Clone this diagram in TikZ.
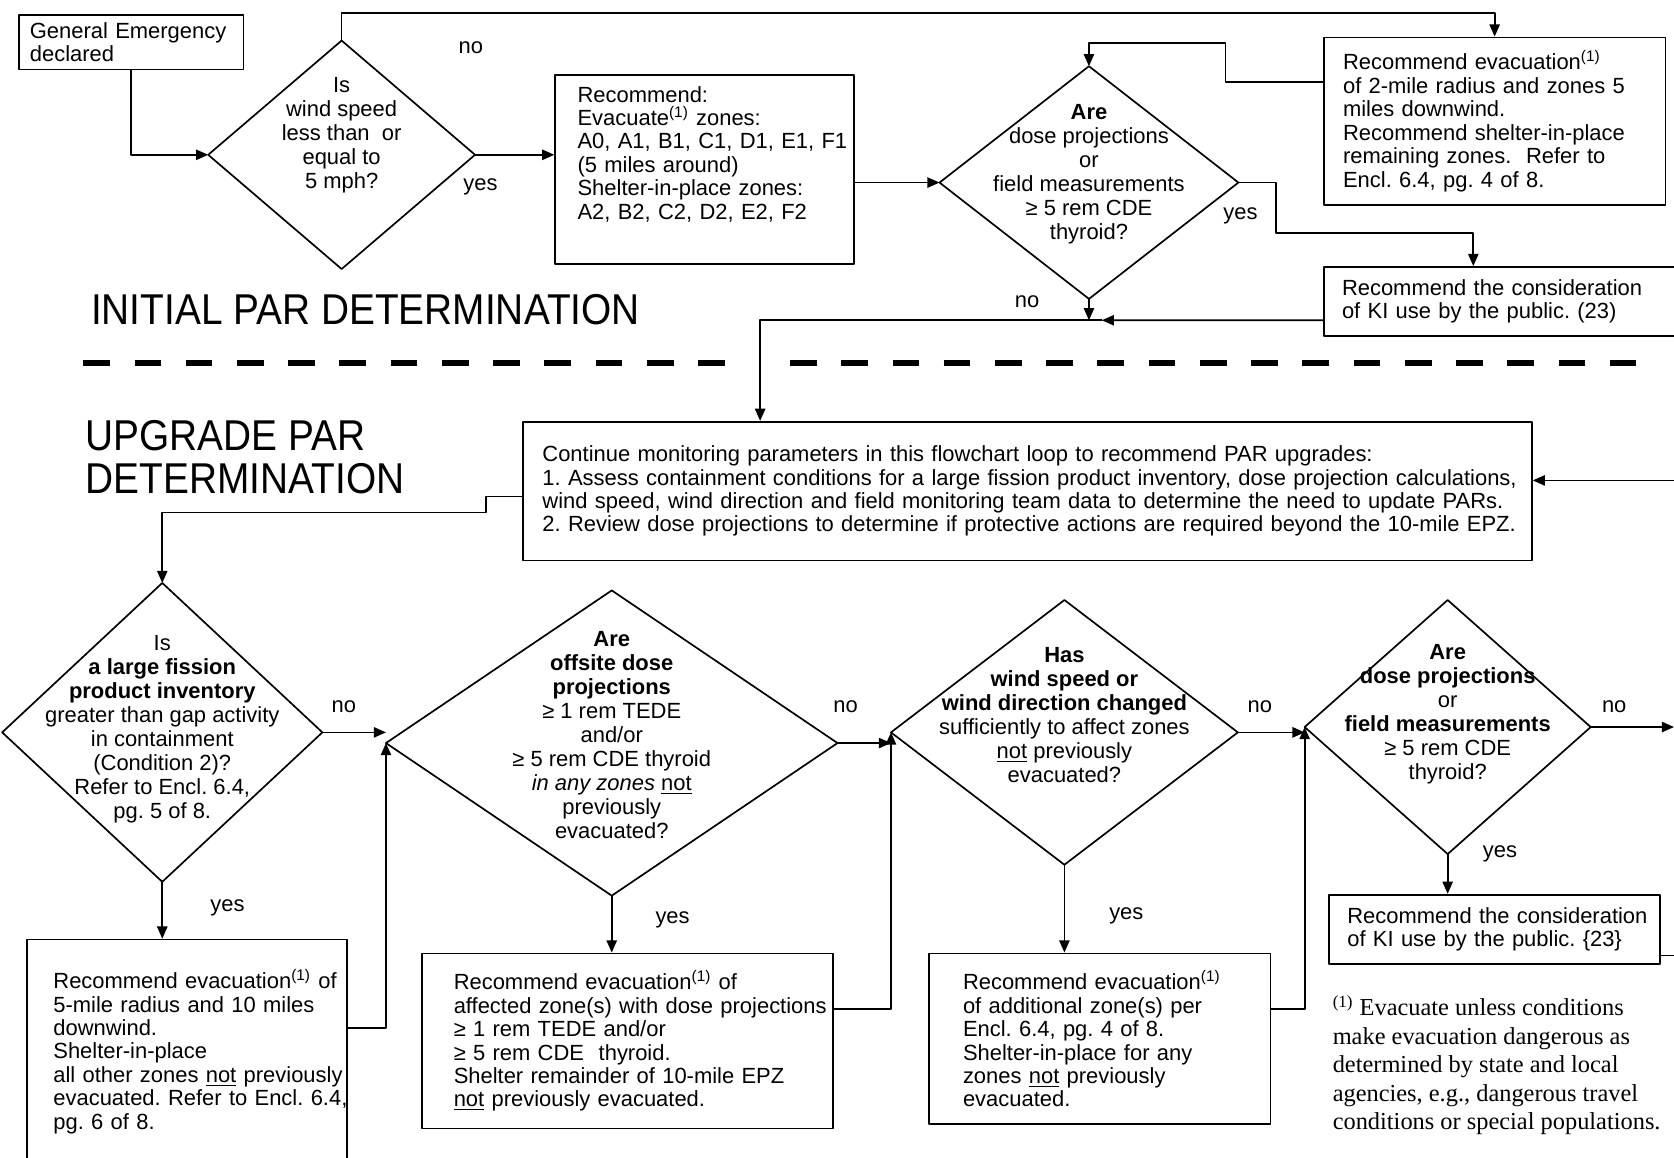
\documentclass[tikz,border=0pt]{standalone}
\usepackage{fontspec}
\setmainfont{Liberation Sans}
\newfontfamily\narrowsf[FakeStretch=0.9]{Liberation Sans}
\newfontfamily\notefamily{Liberation Serif}
\newcommand{\flowfont}{\fontsize{11.7}{12.5}\selectfont}
\newcommand{\askfont}{\fontsize{11.7}{12.8}\selectfont}
\newcommand{\parhead}{\narrowsf\fontsize{23}{22.7}\selectfont}
\newcommand{\fnotefont}{\notefamily\fontsize{13}{15.2}\selectfont}
\usetikzlibrary{arrows.meta,shapes.geometric}
\frenchspacing

\begin{document}
\begin{tikzpicture}[line cap=round,line join=round,>={Triangle[length=6.5pt,width=5.5pt]},x=0.02cm,y=-0.02cm,
		box/.style={draw,line width=0.9pt,font=\flowfont,align=left,inner ysep=0pt},
		decision/.style={diamond,draw,line width=0.9pt,inner sep=0pt,outer sep=0pt},
		ask/.style={font=\askfont,align=center,inner sep=0pt},
		tag/.style={font=\flowfont,inner sep=0pt},
		heading/.style={font=\parhead,align=left,inner sep=0pt},
		fnote/.style={font=\fnotefont,align=left,inner sep=0pt},
		flow/.style={line width=0.9pt,->},
		divider/.style={line width=2.8pt,line cap=butt,dash pattern=on 0.5cm off 0.46cm}]
		\useasboundingbox (0,0) rectangle (1568,1084);
		\clip (0,0) rectangle (1568,1084);
		% initial PAR
		\node[box,text width=3.8cm,inner xsep=0.2cm,minimum height=1.02cm] (ge) at (123,39.5) {General Emergency\\declared};
		\node[decision,minimum width=5cm,minimum height=4.28cm] (d1) at (320,145) {};
		\node[ask] (d1txt) at ([yshift=0.36cm]d1) {Is\\wind speed\\less than\ \ or\\equal to\\5 mph?};
		\node[box,text width=4.76cm,inner xsep=0.42cm,minimum height=3.54cm] (evac5) at (660,158.5) {Recommend:\\Evacuate\textsuperscript{(1)} zones:\\\mbox{A0, A1, B1, C1, D1, E1, F1}\\(5 miles around)\\Shelter-in-place zones:\\A2, B2, C2, D2, E2, F2\rule[-0.62cm]{0pt}{0pt}};
		\node[decision,minimum width=5.6cm,minimum height=4.36cm] (d2) at (1020,171) {};
		\node[ask] (d2txt) at ([yshift=0.15cm]d2) {\textbf{Are}\\dose projections\\or\\field measurements\\≥ 5 rem CDE\\thyroid?};
		\node[box,text width=5.68cm,inner xsep=0.36cm,minimum height=3.14cm] (evac2) at (1400,113.5) {Recommend evacuation\textsuperscript{(1)}\\of 2-mile radius and zones 5\\miles downwind.\\Recommend shelter-in-place\\remaining zones.\ \ Refer to\\Encl. 6.4, pg. 4 of 8.};
		\node[box,text width=6.12cm,inner xsep=0.34cm,minimum height=1.3cm] (ki1) at (1410,282.5) {Recommend the consideration\\of KI use by the public. (23)};
		\node[heading,anchor=west] (initial) at (85,290) {INITIAL PAR DETERMINATION};
		\draw[divider] (78,340) -- (688,340);
		\draw[divider] (740,340) -- (1545,340);
		% upgrade PAR
		\node[heading,anchor=west] (upgrade) at (80,428) {UPGRADE PAR\\DETERMINATION};
		\node[box,text width=18.18cm,inner xsep=0.36cm,minimum height=2.6cm] (monitor) at (962.5,460) {Continue monitoring parameters in this flowchart loop to recommend PAR upgrades:\\\mbox{1. Assess containment conditions for a large fission product inventory, dose projection calculations,}\\\mbox{wind speed, wind direction and field monitoring team data to determine the need to update PARs.}\\\mbox{2. Review dose projections to determine if protective actions are required beyond the 10-mile EPZ.}};
		\node[decision,minimum width=6cm,minimum height=5.6cm] (d3) at (152,686) {};
		\node[ask] (d3txt) at ([yshift=0.06cm]d3) {Is\\\textbf{a large fission}\\\textbf{product inventory}\\greater than gap activity\\in containment\\(Condition 2)?\\Refer to Encl. 6.4,\\pg. 5 of 8.};
		\node[decision,minimum width=8.46cm,minimum height=5.72cm] (d4) at (573,696) {};
		\node[ask] (d4txt) at ([yshift=0.15cm]d4) {\textbf{Are}\\\textbf{offsite dose}\\\textbf{projections}\\≥ 1 rem TEDE\\and/or\\≥ 5 rem CDE thyroid\\\textit{in any zones} \underline{not}\\previously\\evacuated?};
		\node[decision,minimum width=6.5cm,minimum height=4.96cm] (d5) at (997,686) {};
		\node[ask] (d5txt) at ([yshift=0.33cm]d5) {\textbf{Has}\\\textbf{wind speed or}\\\textbf{wind direction changed}\\sufficiently to affect zones\\\underline{not} previously\\evacuated?};
		\node[decision,minimum width=5.36cm,minimum height=4.76cm] (d6) at (1356,681) {};
		\node[ask] (d6txt) at ([yshift=0.24cm]d6) {\textbf{Are}\\\textbf{dose projections}\\or\\\textbf{field measurements}\\≥ 5 rem CDE\\thyroid?};
		\node[box,text width=5cm,inner xsep=0.5cm,minimum height=4.2cm] (evac10) at (175,985) {\mbox{Recommend evacuation\textsuperscript{(1)} of}\\5-mile radius and 10 miles\\downwind.\\Shelter-in-place\\\mbox{all other zones \underline{not} previously}\\\mbox{evacuated. Refer to Encl. 6.4,}\\pg. 6 of 8.};
		\node[box,text width=6.5cm,inner xsep=0.6cm,minimum height=3.28cm] (evacdose) at (587.5,975) {Recommend evacuation\textsuperscript{(1)} of\\\mbox{affected zone(s) with dose projections}\\≥ 1 rem TEDE and/or\\≥ 5 rem CDE\ \ thyroid.\\\mbox{Shelter remainder of 10-mile EPZ}\\\underline{not} previously evacuated.};
		\node[box,text width=5.12cm,inner xsep=0.64cm,minimum height=3.2cm] (evacwind) at (1030,973) {Recommend evacuation\textsuperscript{(1)}\\of additional zone(s) per\\Encl. 6.4, pg. 4 of 8.\\Shelter-in-place for any\\zones \underline{not} previously\\evacuated.};
		\node[box,text width=5.52cm,inner xsep=0.34cm,minimum height=1.3cm] (ki2) at (1400,870.5) {\mbox{Recommend the consideration}\\of KI use by the public. \{23\}};
		\node[fnote,anchor=west] (note) at (1248,998) {\textsuperscript{(1)} Evacuate unless conditions\\make evacuation dangerous as\\determined by state and local\\agencies, e.g., dangerous travel\\conditions or special populations.};
		% yes / no
		\begin{scope}[every node/.style={tag}]
			\node (no1) at (441,45) {no};
			\node (yes1) at (450,175) {yes};
			\node (yes2) at (1162,202) {yes};
			\node (no2) at (962,283) {no};
			\node (no3) at (322,662) {no};
			\node (yes3) at (213,850) {yes};
			\node (no4) at (792,662) {no};
			\node (yes4) at (630,862) {yes};
			\node (no5) at (1180,662) {no};
			\node (yes5) at (1055,858) {yes};
			\node (no6) at (1512,662) {no};
			\node (yes6) at (1405,800) {yes};
		\end{scope}
		% bends
		\coordinate (k0) at (320,12);
		\coordinate (k1) at (1148,40);
		\coordinate (k2) at (1195,218);
		\coordinate (k3) at (712,300);
		\coordinate (k4) at (1032,300);
		\coordinate (k5) at (455,480);
		\coordinate (e1) at (1568,450);
		\coordinate (e2) at (1568,681);
		\coordinate (e3) at (1568,895);
		% connectors
		\draw[flow] (ge.south) |- (d1.west);
		\draw[flow] (d1.north) -- (k0) -| (evac2.north);
		\draw[flow] (d1.east) -- (d1.east -| evac5.west);
		\draw[flow] (evac5.east |- d2.west) -- (d2.west);
		\draw[flow] ([yshift=0.73cm]evac2.west) -| (k1) -| (d2.north);
		\draw[flow] (d2.east) -| (k2) -| ([xshift=-0.6cm]ki1.north);
		\draw[flow] (d2.south) -- (d2.south |- k4);
		\draw[flow] ([yshift=-0.35cm]ki1.west) -- (k4);
		\draw[flow] (k4) -- (k3) -- (k3 |- monitor.north);
		\draw[flow] (e1) -- (monitor.east |- e1);
		\draw[flow] ([yshift=-0.1cm]monitor.west) -| (k5) -| (d3.north);
		\draw[flow] (d3.east) -- (d3.east -| d4.west);
		\draw[flow] (d3.south) -- (d3.south |- evac10.north);
		\draw[flow] ([yshift=0.44cm]evac10.east) -| (d4.west);
		\draw[flow] (d4.east) -- (d4.east -| d5.west);
		\draw[flow] (d4.south) -- (d4.south |- evacdose.north);
		\draw[flow] ([yshift=0.6cm]evacdose.east) -| (d5.west);
		\draw[flow] (d5.east) -- (d5.east -| d6.west);
		\draw[flow] (d5.south) -- (d5.south |- evacwind.north);
		\draw[flow] ([yshift=0.56cm]evacwind.east) -| (d6.west);
		\draw[flow] (d6.east) -- (e2);
		\draw[flow] (d6.south) -- (d6.south |- ki2.north);
		\draw[line width=0.9pt] (ki2.east |- e3) -- (e3);
	\end{tikzpicture}
\end{document}
